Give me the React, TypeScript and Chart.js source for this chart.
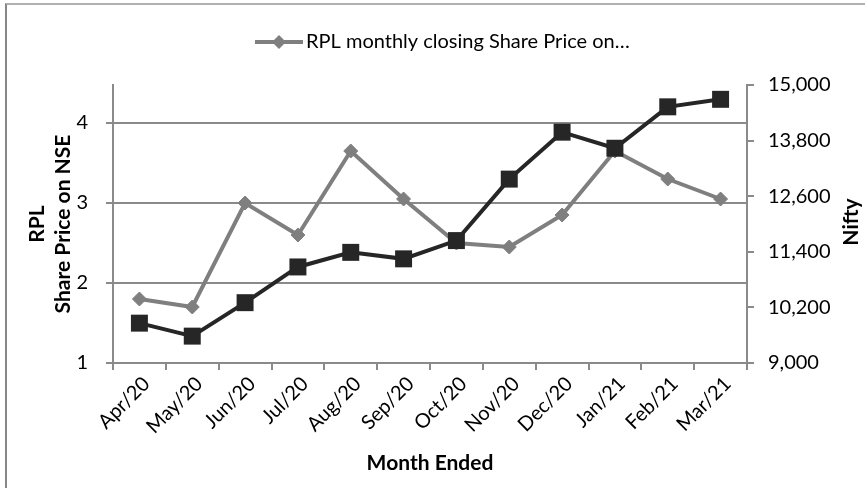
import React, { useEffect, useRef } from 'react';
import { Chart, registerables } from 'chart.js';

Chart.register(...registerables);

const months = ['Apr/20', 'May/20', 'Jun/20', 'Jul/20', 'Aug/20', 'Sep/20', 'Oct/20', 'Nov/20', 'Dec/20', 'Jan/21', 'Feb/21', 'Mar/21'];
const rplPrice = [1.8, 1.7, 3.0, 2.6, 3.65, 3.05, 2.5, 2.45, 2.85, 3.65, 3.3, 3.05];
const nifty = [9860, 9580, 10302, 11073, 11388, 11248, 11642, 12969, 13982, 13635, 14529, 14691];
const legendLabel = 'RPL monthly closing Share Price on…';
const leftTitle = ['RPL', 'Share Price on NSE'];
const rightTitle = 'Nifty';
const xTitle = 'Month Ended';

const FONT = 'Lato, "Open Sans", sans-serif';
const GRAY = '#7f7f7f';
const BLACK = '#262626';
const AXIS = '#8a8a8a';

const legendPlugin = {
  id: 'customLegend',
  afterDraw(chart: any) {
    const ctx = chart.ctx as CanvasRenderingContext2D;
    ctx.save();
    const x0 = 255;
    const y = 42;
    const lineW = 48;
    ctx.strokeStyle = GRAY;
    ctx.lineWidth = 4;
    ctx.beginPath();
    ctx.moveTo(x0, y);
    ctx.lineTo(x0 + lineW, y);
    ctx.stroke();
    const cx = x0 + lineW / 2;
    const r = 7;
    ctx.fillStyle = GRAY;
    ctx.beginPath();
    ctx.moveTo(cx - r, y);
    ctx.lineTo(cx, y - r);
    ctx.lineTo(cx + r, y);
    ctx.lineTo(cx, y + r);
    ctx.closePath();
    ctx.fill();
    ctx.fillStyle = '#000';
    ctx.font = `20px ${FONT}`;
    ctx.textBaseline = 'middle';
    ctx.textAlign = 'left';
    ctx.fillText(legendLabel, x0 + lineW + 3, y);

    // right axis title, reading bottom-to-top
    const area = chart.chartArea;
    ctx.font = `bold 21px ${FONT}`;
    ctx.translate(851, (area.top + area.bottom) / 2 - 2);
    ctx.rotate(-Math.PI / 2);
    ctx.textAlign = 'center';
    ctx.fillText(rightTitle, 0, 0);
    ctx.restore();
  },
};

export default function App() {
  const ref = useRef<HTMLCanvasElement | null>(null);

  useEffect(() => {
    if (!ref.current) return;
    Chart.defaults.font.family = FONT;
    const chart = new Chart(ref.current, {
      type: 'line',
      data: {
        labels: months,
        datasets: [
          {
            label: legendLabel,
            data: rplPrice,
            yAxisID: 'y',
            borderColor: GRAY,
            backgroundColor: GRAY,
            borderWidth: 4,
            pointStyle: 'rectRot',
            pointRadius: 7,
            pointBorderWidth: 1,
            pointBackgroundColor: GRAY,
            pointBorderColor: GRAY,
            tension: 0,
            order: 1,
          },
          {
            label: 'Nifty',
            data: nifty,
            yAxisID: 'y1',
            borderColor: BLACK,
            backgroundColor: BLACK,
            borderWidth: 4,
            pointStyle: 'rect',
            pointRadius: 12,
            pointBorderWidth: 0,
            pointBackgroundColor: BLACK,
            pointBorderColor: BLACK,
            tension: 0,
            order: 0,
          },
        ],
      },
      options: {
        animation: false,
        responsive: false,
        maintainAspectRatio: false,
        layout: { padding: { top: 85, left: 0, right: 0, bottom: 0 } },
        plugins: {
          legend: { display: false },
          tooltip: { enabled: false },
        },
        scales: {
          x: {
            offset: true,
            afterFit(scale: any) { scale.height = 125; },
            grid: { offset: true, drawOnChartArea: false, tickLength: 7, color: AXIS, lineWidth: 2 },
            border: { display: true, color: AXIS, width: 2 },
            ticks: { color: '#000', font: { size: 20, family: FONT }, maxRotation: 45, minRotation: 45, padding: 2, labelOffset: 7 },
            title: { display: true, text: xTitle, color: '#000', font: { size: 21, weight: 'bold', family: FONT }, padding: { top: 0, bottom: 12 } },
          },
          y: {
            position: 'left',
            min: 1,
            max: 4.475,
            afterFit(scale: any) { scale.width = 113; },
            grid: { color: AXIS, lineWidth: 2, tickLength: 7 },
            border: { display: true, color: AXIS, width: 2 },
            ticks: { stepSize: 1, includeBounds: false, color: '#000', font: { size: 20, family: FONT }, padding: 18 },
            title: { display: true, text: leftTitle, color: '#000', font: { size: 21, weight: 'bold', family: FONT, lineHeight: 1.2 }, padding: { top: 25, bottom: 0 } },
          },
          y1: {
            position: 'right',
            min: 9000,
            max: 15000,
            afterFit(scale: any) { scale.width = 118; },
            grid: { drawOnChartArea: false, color: AXIS, lineWidth: 2, tickLength: 7 },
            border: { display: true, color: AXIS, width: 2 },
            ticks: {
              stepSize: 1200,
              color: '#000',
              font: { size: 20, family: FONT },
              padding: 14,
              callback: (v: any) => Number(v).toLocaleString('en-US'),
            },
          },
        },
      },
      plugins: [legendPlugin],
    } as any);
    return () => chart.destroy();
  }, []);

  return (
    <div style={{ position: 'fixed', left: 0, top: 0, width: 865, height: 488, overflow: 'hidden', background: '#fff' }}>
      <div style={{ position: 'absolute', left: 5, top: 3, width: 900, height: 520, borderTop: '2px solid #b0b0b0', borderLeft: '2px solid #868686' }} />
      <canvas ref={ref} width={865} height={488} style={{ position: 'absolute', left: 0, top: 0, width: 865, height: 488 }} />
    </div>
  );
}
